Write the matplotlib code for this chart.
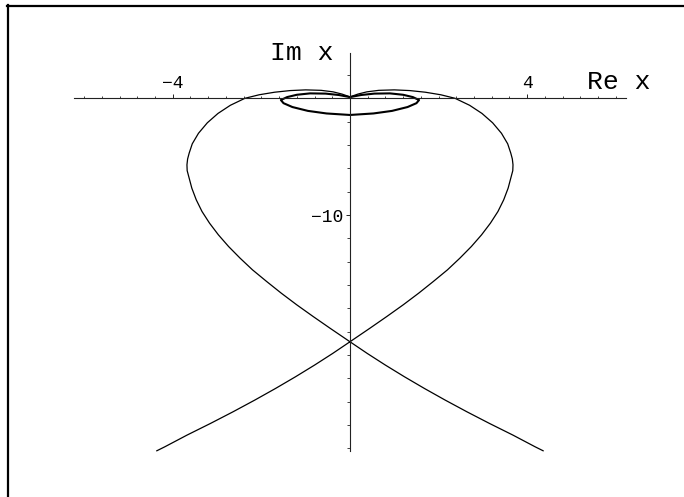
import numpy as np
import matplotlib
matplotlib.use("Agg")
import matplotlib.pyplot as plt
from matplotlib.lines import Line2D

# open trajectory: bottom-left tail -> right lobe -> over the top -> left lobe -> bottom-right tail
heart_re = [-4.36, -4.18, -3.68, -3.15, -2.64, -2.15, -1.68, -1.23, -0.80, -0.39, 0.00,
            0.45, 0.83, 1.20, 1.55, 1.88, 2.20, 2.48, 2.74, 2.97, 3.17, 3.34, 3.47,
            3.57, 3.64, 3.675, 3.68, 3.665, 3.63, 3.56, 3.42, 3.22, 2.98, 2.70, 2.37,
            2.05, 1.70, 1.35, 1.00, 0.65, 0.38, 0.18, 0.00,
            -0.18, -0.38, -0.65, -1.00, -1.35, -1.70, -2.05,
            -2.37, -2.70, -2.98, -3.22, -3.42, -3.56, -3.63, -3.665, -3.68, -3.675,
            -3.64, -3.57, -3.47, -3.34, -3.17, -2.97, -2.74, -2.48, -2.20, -1.88, -1.55,
            -1.20, -0.83, -0.45, 0.00,
            0.39, 0.80, 1.23, 1.68, 2.15, 2.64, 3.15, 3.68, 4.18, 4.36]
heart_im = [-30.20, -29.86, -28.86, -27.86, -26.86, -25.86, -24.86, -23.86, -22.86, -21.86, -20.86,
            -19.70, -18.70, -17.70, -16.70, -15.70, -14.70, -13.70, -12.70, -11.70, -10.70, -9.70, -8.70,
            -7.70, -6.70, -6.20, -5.70, -5.20, -4.70, -3.90, -3.00, -2.10, -1.30, -0.60, 0.00,
            0.30, 0.52, 0.66, 0.72, 0.68, 0.55, 0.36, 0.12,
            0.36, 0.55, 0.68, 0.72, 0.66, 0.52, 0.30,
            0.00, -0.60, -1.30, -2.10, -3.00, -3.90, -4.70, -5.20, -5.70, -6.20,
            -6.70, -7.70, -8.70, -9.70, -10.70, -11.70, -12.70, -13.70, -14.70, -15.70, -16.70,
            -17.70, -18.70, -19.70, -20.86,
            -21.86, -22.86, -23.86, -24.86, -25.86, -26.86, -27.86, -28.86, -29.86, -30.20]

# closed orbit around the origin
loop_re = [0.00, 0.25, 0.55, 0.90, 1.20, 1.42, 1.56, 1.50, 1.30, 0.95, 0.53, 0.00,
           -0.53, -0.95, -1.30, -1.50, -1.56, -1.42, -1.20, -0.90, -0.55, -0.25, 0.00]
loop_im = [0.10, 0.28, 0.40, 0.42, 0.30, 0.10, -0.15, -0.42, -0.75, -1.08, -1.30, -1.43,
           -1.30, -1.08, -0.75, -0.42, -0.15, 0.10, 0.30, 0.42, 0.40, 0.28, 0.10]

re_labels = [-4, 4]
im_labels = [-10]

mono = "Liberation Mono"

fig = plt.figure(figsize=(6.84, 4.97), dpi=100)
ax = fig.add_axes([0, 0, 1, 1])
ax.set_xlim(-7.90, 7.54)
ax.set_ylim(-34.16, 8.42)

ax.plot(heart_re, heart_im, color="black", lw=0.9, solid_joinstyle="round")
ax.plot(loop_re, loop_im, color="black", lw=1.5, solid_joinstyle="round")

# axes through the origin
for s in ("top", "right"):
    ax.spines[s].set_visible(False)
ax.spines["left"].set_position(("data", 0))
ax.spines["bottom"].set_position(("data", 0))
ax.spines["left"].set_bounds(-30.2, 3.9)
ax.spines["bottom"].set_bounds(-6.22, 6.22)
for s in ("left", "bottom"):
    ax.spines[s].set_linewidth(0.8)
    ax.spines[s].set_color("#222222")

xminor = [v for v in np.round(np.arange(-6.0, 6.01, 0.4), 2) if v != 0 and v not in re_labels]
ax.set_xticks(re_labels)
ax.set_xticks(xminor, minor=True)
ax.tick_params(axis="x", which="major", direction="in", length=3.2, width=0.7,
               labelbottom=False, colors="#222222")
ax.tick_params(axis="x", which="minor", direction="in", length=1.6, width=0.6,
               colors="#222222")

yminor = [v for v in range(-30, 3, 2) if v != 0 and v not in im_labels]
ax.set_yticks(im_labels, ["\u2212%d" % abs(v) for v in im_labels])
ax.set_yticks(yminor, minor=True)
ax.tick_params(axis="y", which="major", direction="out", length=3.2, width=0.7,
               pad=1.5, labelsize=13, colors="#222222")
ax.tick_params(axis="y", which="minor", direction="out", length=2.0, width=0.6,
               colors="#222222")
for lab in ax.get_yticklabels():
    lab.set_family(mono)
    lab.set_color("black")

for v in re_labels:
    ax.text(v, 0.55, ("\u2212%d" % abs(v)) if v < 0 else str(v), ha="center",
            va="bottom", fontsize=13, family=mono)

ax.text(-0.38, 3.3, "Im x", ha="right", va="baseline", fontsize=19, family=mono)
ax.text(5.34, 0.8, "Re x", ha="left", va="baseline", fontsize=19, family=mono)

# left and top edges of the frame
fig.add_artist(Line2D([8 / 684, 8 / 684], [0, 1 - 5 / 497], transform=fig.transFigure,
                      color="black", lw=1.6))
fig.add_artist(Line2D([7 / 684, 1], [1 - 6 / 497, 1 - 6 / 497], transform=fig.transFigure,
                      color="black", lw=1.6))

fig.savefig("out.png", dpi=100)
